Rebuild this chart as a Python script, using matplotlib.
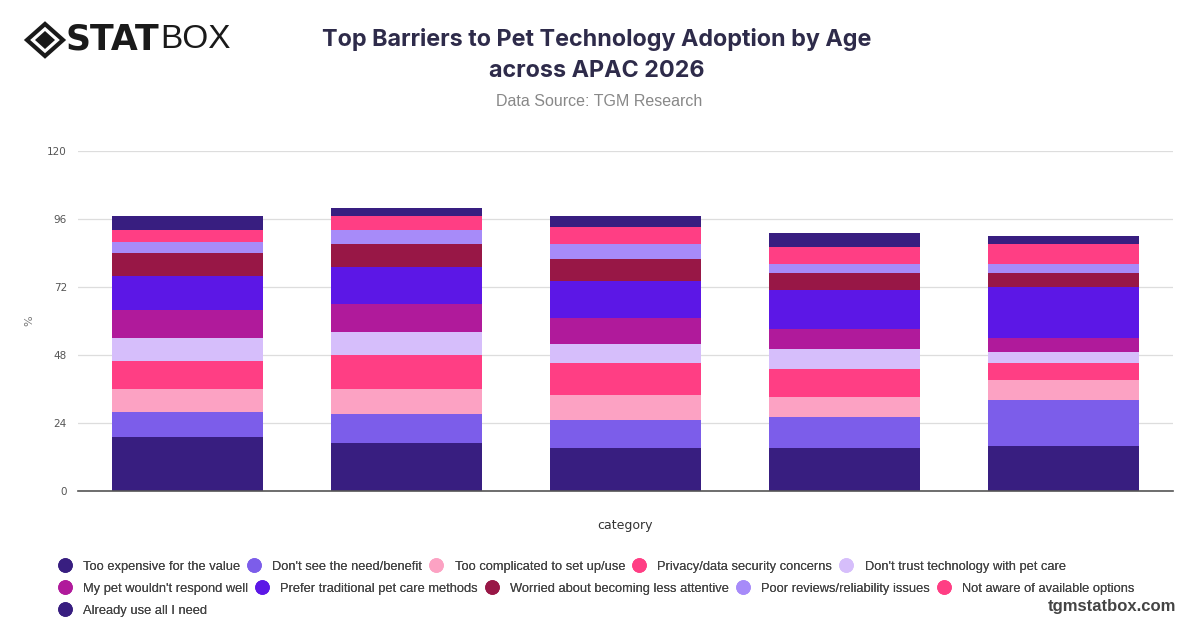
import numpy as np
import matplotlib
matplotlib.use("Agg")
from matplotlib import pyplot as plt
from matplotlib.lines import Line2D
from matplotlib.patches import Polygon

# age groups are not labelled on the x axis in the source
groups = ["", "", "", "", ""]

barriers = [
    "Too expensive for the value",
    "Don't see the need/benefit",
    "Too complicated to set up/use",
    "Privacy/data security concerns",
    "Don't trust technology with pet care",
    "My pet wouldn't respond well",
    "Prefer traditional pet care methods",
    "Worried about becoming less attentive",
    "Poor reviews/reliability issues",
    "Not aware of available options",
    "Already use all I need",
]

too_expensive = [19, 17, 15, 15, 16]
no_need = [9, 10, 10, 11, 16]
too_complicated = [8, 9, 9, 7, 7]
privacy = [10, 12, 11, 10, 6]
no_trust = [8, 8, 7, 7, 4]
pet_wont_respond = [10, 10, 9, 7, 5]
prefer_traditional = [12, 13, 13, 14, 18]
less_attentive = [8, 8, 8, 6, 5]
poor_reviews = [4, 5, 5, 3, 3]
not_aware = [4, 5, 6, 6, 7]
already_use = [5, 3, 4, 5, 3]

series = [too_expensive, no_need, too_complicated, privacy, no_trust,
          pet_wont_respond, prefer_traditional, less_attentive,
          poor_reviews, not_aware, already_use]

colors = ["#381E80", "#7C5DEA", "#FCA2C3", "#FF3E84", "#D6BEFB",
          "#B01A9B", "#5C17E6", "#981746", "#A78BF9", "#FF3E84", "#381E80"]

fig = plt.figure(figsize=(12, 6.28), dpi=100)
ax = fig.add_axes([0.065, 0.2182, 0.9125, 0.5414])

x = np.arange(len(groups))
bottom = np.zeros(len(groups))
for vals, col, name in zip(series, colors, barriers):
    ax.bar(x, vals, width=0.685, bottom=bottom, color=col, label=name, zorder=3)
    bottom += np.array(vals)

ax.set_xlim(-0.5, 4.5)
ax.set_ylim(0, 120)
ax.set_yticks([0, 24, 48, 72, 96, 120])
ax.set_xticks(x)
ax.set_xticklabels(groups)
ax.tick_params(axis="both", length=0, labelsize=7.5, labelcolor="#555555", pad=8)
ax.grid(axis="y", color="#DDDDDD", linewidth=0.9, zorder=0)
for side in ["top", "right", "left"]:
    ax.spines[side].set_visible(False)
ax.spines["bottom"].set_color("#555555")
ax.spines["bottom"].set_linewidth(1.2)
ax.spines["bottom"].set_zorder(4)

ax.set_ylabel("%", fontsize=8, color="#777777", labelpad=9.5)
ax.set_xlabel("category", fontsize=9, color="#333333", labelpad=12)

# titles
fig.text(0.4975, 0.9125, "Top Barriers to Pet Technology Adoption by Age\nacross APAC 2026",
         ha="center", va="center", fontsize=16.8, fontweight="bold",
         family="Inter", color="#2E2B4A", linespacing=1.5)
fig.text(0.4995, 0.838, "Data Source: TGM Research", ha="center", va="center",
         fontsize=11.5, color="#888888", family="Liberation Sans")

# logo
cx, cy = 45 / 1200, 1 - 40 / 628
w, h = 18 / 1200, 16 / 628
outer = Polygon([[cx - w, cy], [cx, cy + h], [cx + w, cy], [cx, cy - h]], closed=True,
                transform=fig.transFigure, facecolor="none", edgecolor="#1A1A1A", linewidth=3)
iw, ih = 10 / 1200, 9 / 628
inner = Polygon([[cx - iw, cy], [cx, cy + ih], [cx + iw, cy], [cx, cy - ih]], closed=True,
                transform=fig.transFigure, facecolor="#1A1A1A", edgecolor="none")
fig.add_artist(outer)
fig.add_artist(inner)
fig.text(66 / 1200, cy, "STAT", ha="left", va="center", fontsize=25, fontweight="heavy",
         family="DejaVu Sans", color="#1A1A1A")
fig.text(160 / 1200, cy, "BOX", ha="left", va="center", fontsize=24, fontweight="light",
         family="Liberation Sans", color="#1A1A1A")

fig.text(0.98, 0.035, "tgmstatbox.com", ha="right", va="center", fontsize=12,
         fontweight="bold", color="#444444", family="Liberation Sans")

# flowing legend: three rows
rows = [range(0, 5), range(5, 10), range(10, 11)]
row_y = [1 - 567 / 628, 1 - 589 / 628, 1 - 611 / 628]
for idx, yy in zip(rows, row_y):
    handles = [Line2D([], [], marker="o", linestyle="none", markersize=9.5,
                      markerfacecolor=colors[i], markeredgecolor=colors[i]) for i in idx]
    labels = [barriers[i] for i in idx]
    leg = fig.legend(handles, labels, loc="center left", bbox_to_anchor=(0.0487, yy),
                     ncol=len(handles), frameon=False, handlelength=1.0, handletextpad=0.9,
                     columnspacing=0.6, borderpad=0, borderaxespad=0,
                     prop={"family": "Liberation Sans", "size": 9.3})
    for t in leg.get_texts():
        t.set_color("#444444")
    fig.add_artist(leg)

fig.savefig("out.png", dpi=100)
plt.close(fig)
